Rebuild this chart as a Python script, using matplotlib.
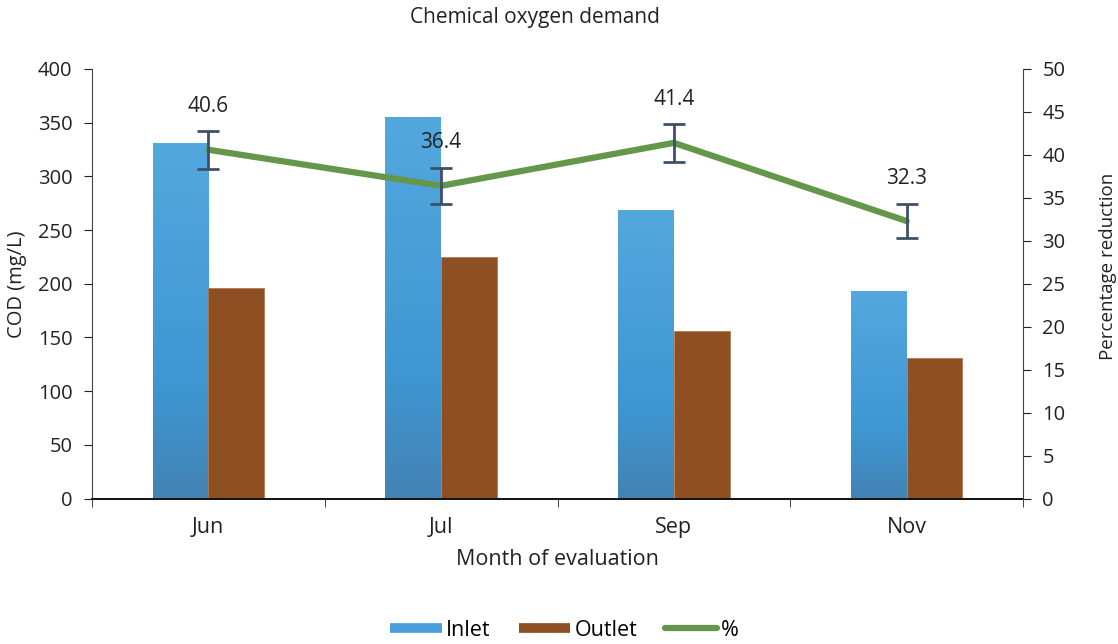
import numpy as np
import matplotlib.pyplot as plt
from matplotlib.lines import Line2D
from matplotlib.colors import LinearSegmentedColormap

plt.rcParams['font.family'] = ['Open Sans', 'DejaVu Sans']

# data
months = ["Jun", "Jul", "Sep", "Nov"]
inlet = [331, 355, 269, 193]
outlet = [196, 225, 156, 131]
reduction = [40.6, 36.4, 41.4, 32.3]
reduction_err = [2.2, 2.1, 2.2, 2.0]

# colours
blue_grad = LinearSegmentedColormap.from_list("inlet", ["#4383b4", "#3e97d3", "#4a9fd9", "#53a8de"])
brown = "#8e5022"
green = "#64974a"
err_col = "#3e5068"
txt = "#222222"

fig = plt.figure(figsize=(11.18, 6.44), dpi=100)
ax = fig.add_axes([92/1118, 1-498.5/644, (1023-92)/1118, (498.5-69)/644])

x = np.arange(len(months))
w = 0.24

# inlet bars with vertical gradient
bars = ax.bar(x - w/2, inlet, w, color="none", edgecolor="none", zorder=2)
grad = np.linspace(0, 1, 256).reshape(-1, 1)
for b in bars:
    x0, h = b.get_x(), b.get_height()
    im = ax.imshow(grad, cmap=blue_grad, aspect="auto", origin="lower",
                   extent=(x0, x0 + w, 0, h), zorder=2)
    im.set_clip_path(b)

ax.bar(x + w/2, outlet, w, color=brown, edgecolor="#b07a50", linewidth=0.6, zorder=2)

ax.set_xlim(-0.5, 3.5)
ax.set_ylim(0, 400)
ax.set_yticks(np.arange(0, 401, 50))
ax.set_xticks(x)
ax.set_xticklabels(months)
ax.set_xticks(np.arange(-0.5, 3.6, 1), minor=True)
ax.tick_params(axis="x", which="major", length=0, pad=13, labelsize=15.5, colors=txt)
ax.tick_params(axis="x", which="minor", length=6, direction="out", color=txt)
ax.tick_params(axis="y", length=6, direction="out", labelsize=14.5, colors=txt, pad=8)
ax.set_ylabel("COD (mg/L)", fontsize=14.5, color=txt, labelpad=8)
ax.set_xlabel("Month of evaluation", fontsize=15.5, color=txt, labelpad=8)

for s in ["top", "right"]:
    ax.spines[s].set_visible(False)
ax.spines["left"].set_color("#444444")
ax.spines["bottom"].set_color("#111111")
ax.spines["bottom"].set_linewidth(1.4)

# percentage reduction on the right axis
ax2 = ax.twinx()
ax2.plot(x, reduction, color=green, lw=4.5, solid_capstyle="round", zorder=3)
ax2.errorbar(x, reduction, yerr=reduction_err, fmt="none", ecolor=err_col,
             elinewidth=2, capsize=8, capthick=2, zorder=4)
for xi, v in zip(x, reduction):
    ax2.annotate(f"{v:.1f}", (xi, v), xytext=(0, 43), textcoords="offset pixels",
                 ha="center", va="center", fontsize=15, color=txt)
ax2.set_ylim(0, 50)
ax2.set_yticks(np.arange(0, 51, 5))
ax2.tick_params(axis="y", length=6, direction="out", labelsize=14.5, colors=txt, pad=8)
ax2.set_ylabel("Percentage reduction", fontsize=13.5, color=txt)
ax2.yaxis.set_label_coords(1.082, 0.54)
for s in ["top", "left", "bottom"]:
    ax2.spines[s].set_visible(False)
ax2.spines["right"].set_color("#444444")

fig.text(535/1118, 1 - 17/644, "Chemical oxygen demand", ha="center", va="center",
         fontsize=15, color=txt)

handles = [Line2D([], [], color="#4aa0da", lw=7, solid_capstyle="butt"),
           Line2D([], [], color=brown, lw=7, solid_capstyle="butt"),
           Line2D([], [], color=green, lw=4.5, solid_capstyle="round")]
fig.legend(handles, ["Inlet", "Outlet", "%"], loc="lower center", bbox_to_anchor=(0.505, -0.025),
           ncol=3, frameon=False, fontsize=15.5, handlelength=2.4, handletextpad=0.2,
           columnspacing=1.3)

fig.savefig("out.png", dpi=100)
